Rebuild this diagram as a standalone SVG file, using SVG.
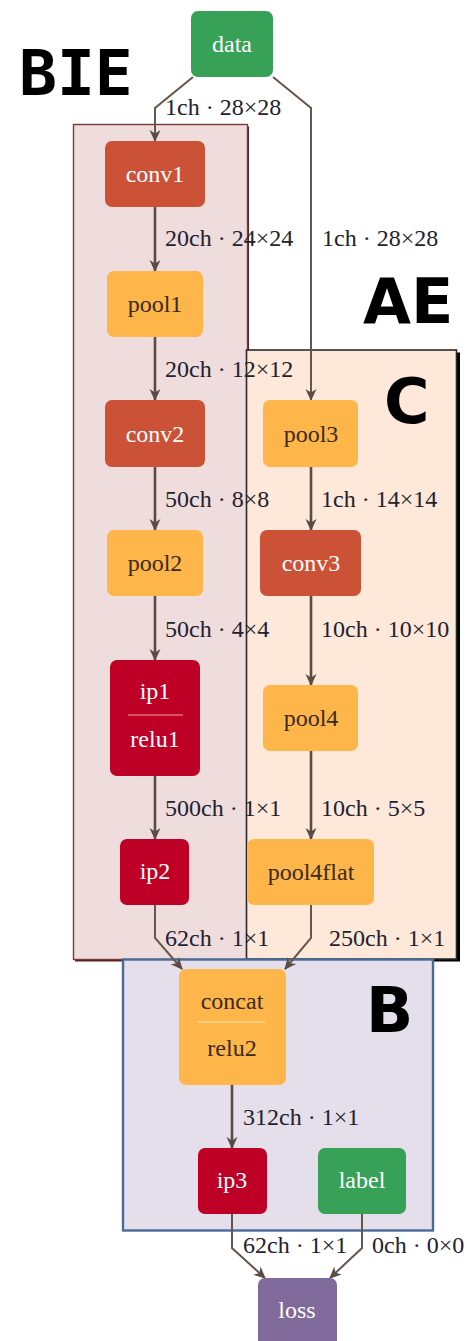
<svg xmlns="http://www.w3.org/2000/svg" width="467" height="1341" viewBox="0 0 467 1341">
  <style>
    .node rect { stroke: none; }
    .lbl { font-family: "Liberation Serif", "Times New Roman", serif; font-size: 24px; text-anchor: middle; }
    .light { fill: #ffffff; }
    .dark { fill: #3a2b1c; }
    .elbl { font-family: "Liberation Serif", "Times New Roman", serif; font-size: 24px; fill: #22222e; }
    .grp { font-family: "DejaVu Sans", "Liberation Sans", sans-serif; font-weight: bold; font-size: 62px; fill: #000000; }
    .grp.mono { font-family: "DejaVu Sans Mono", "Liberation Mono", monospace; font-size: 63px; }
    .edge { fill: none; stroke: #5a4b44; stroke-width: 2.6; marker-end: url(#arrow); }
    .edge.thin { stroke-width: 2; stroke: #65564e; }
    .div { stroke-width: 1.2; }
  </style>
  <defs>
    <marker id="arrow" viewBox="0 0 12 12" refX="11" refY="6" markerWidth="12" markerHeight="12" markerUnits="userSpaceOnUse" orient="auto">
      <path d="M0,0.5 L12,6 L0,11.5 L3.5,6 Z" fill="#5a4b44"/>
    </marker>
  </defs>

  <rect width="467" height="1341" fill="#ffffff"/>

  <!-- group frames -->
  <g id="group-BIE">
    <rect x="75" y="126.5" width="174" height="835" fill="#5a1f1f"/>
    <rect x="73.5" y="124.5" width="174" height="835" fill="#efdcdc" stroke="#7a3a3a" stroke-width="1.4"/>
  </g>
  <g id="group-AEC">
    <rect x="249" y="352.5" width="211" height="609" fill="#000000"/>
    <rect x="246.5" y="350" width="210" height="609" fill="#fde8d9" stroke="#2a2a2a" stroke-width="1.6"/>
  </g>
  <g id="group-B">
    <rect x="123" y="959.5" width="310" height="271" fill="#e4dfea" stroke="#4a6b98" stroke-width="2.4"/>
  </g>

  <!-- group titles -->
  <text class="grp mono" x="19" y="95">BIE</text>
  <text class="grp" x="363" y="323">AE</text>
  <text class="grp" x="384" y="423">C</text>
  <text class="grp" x="366" y="1032">B</text>

  <!-- connectors -->
  <g id="edges">
    <path class="edge thin" d="M193,77 L155,108 L155,141"/>
    <path class="edge thin" d="M273,77 L311,108 L311,400"/>
    <path class="edge" d="M155,207 L155,271"/>
    <path class="edge" d="M155,337 L155,400"/>
    <path class="edge" d="M155,467 L155,530"/>
    <path class="edge" d="M155,596 L155,660"/>
    <path class="edge" d="M155,776 L155,839"/>
    <path class="edge" d="M311,467 L311,530"/>
    <path class="edge" d="M311,596 L311,685"/>
    <path class="edge" d="M311,751 L311,839"/>
    <path class="edge thin" d="M155,905 L155,938 L182,969"/>
    <path class="edge thin" d="M311,905 L311,938 L285,969"/>
    <path class="edge" d="M232,1085 L232,1148"/>
    <path class="edge thin" d="M232,1214 L232,1248 L265,1278"/>
    <path class="edge thin" d="M362,1214 L362,1248 L330,1278"/>
  </g>

  <!-- connector labels -->
  <g id="edge-labels">
    <text class="elbl" x="165" y="115">1ch · 28×28</text>
    <text class="elbl" x="165" y="246">20ch · 24×24</text>
    <text class="elbl" x="322" y="246">1ch · 28×28</text>
    <text class="elbl" x="165" y="377">20ch · 12×12</text>
    <text class="elbl" x="165" y="507">50ch · 8×8</text>
    <text class="elbl" x="321" y="507">1ch · 14×14</text>
    <text class="elbl" x="165" y="637">50ch · 4×4</text>
    <text class="elbl" x="321" y="637">10ch · 10×10</text>
    <text class="elbl" x="165" y="816">500ch · 1×1</text>
    <text class="elbl" x="321" y="816">10ch · 5×5</text>
    <text class="elbl" x="165" y="946">62ch · 1×1</text>
    <text class="elbl" x="329" y="946">250ch · 1×1</text>
    <text class="elbl" x="243" y="1125">312ch · 1×1</text>
    <text class="elbl" x="243" y="1253">62ch · 1×1</text>
    <text class="elbl" x="372" y="1253">0ch · 0×0</text>
  </g>

  <!-- nodes -->
  <g id="node-data" class="node">
    <rect x="191" y="11" width="82" height="66" rx="7" fill="#37a158"/>
    <text class="lbl light" x="232" y="52">data</text>
  </g>
  <g id="node-conv1" class="node">
    <rect x="105" y="141" width="100" height="66" rx="7" fill="#cb5236"/>
    <text class="lbl light" x="155" y="182">conv1</text>
  </g>
  <g id="node-pool1" class="node">
    <rect x="107" y="271" width="96" height="66" rx="7" fill="#feb54a"/>
    <text class="lbl dark" x="155" y="312">pool1</text>
  </g>
  <g id="node-conv2" class="node">
    <rect x="105" y="400" width="100" height="67" rx="7" fill="#cb5236"/>
    <text class="lbl light" x="155" y="442">conv2</text>
  </g>
  <g id="node-pool2" class="node">
    <rect x="107" y="530" width="96" height="66" rx="7" fill="#feb54a"/>
    <text class="lbl dark" x="155" y="571">pool2</text>
  </g>
  <g id="node-ip1" class="node">
    <rect x="110" y="660" width="90" height="116" rx="7" fill="#bf0026"/>
    <text class="lbl light" x="155" y="699">ip1</text>
    <line class="div" x1="128" y1="715" x2="183" y2="715" stroke="#f0a0aa"/>
    <text class="lbl light" x="155" y="747">relu1</text>
  </g>
  <g id="node-ip2" class="node">
    <rect x="120" y="839" width="69" height="66" rx="7" fill="#bf0026"/>
    <text class="lbl light" x="155" y="879">ip2</text>
  </g>
  <g id="node-pool3" class="node">
    <rect x="263" y="400" width="95" height="67" rx="7" fill="#feb54a"/>
    <text class="lbl dark" x="311" y="442">pool3</text>
  </g>
  <g id="node-conv3" class="node">
    <rect x="260" y="530" width="101" height="66" rx="7" fill="#cb5236"/>
    <text class="lbl light" x="311" y="571">conv3</text>
  </g>
  <g id="node-pool4" class="node">
    <rect x="263" y="685" width="95" height="66" rx="7" fill="#feb54a"/>
    <text class="lbl dark" x="311" y="726">pool4</text>
  </g>
  <g id="node-pool4flat" class="node">
    <rect x="247" y="839" width="127" height="66" rx="7" fill="#feb54a"/>
    <text class="lbl dark" x="311" y="880">pool4flat</text>
  </g>
  <g id="node-concat" class="node">
    <rect x="179" y="969" width="107" height="116" rx="7" fill="#feb54a"/>
    <text class="lbl dark" x="232" y="1009">concat</text>
    <line class="div" x1="198" y1="1022" x2="265" y2="1022" stroke="#ffe3b0"/>
    <text class="lbl dark" x="232" y="1056">relu2</text>
  </g>
  <g id="node-ip3" class="node">
    <rect x="198" y="1148" width="69" height="66" rx="7" fill="#bf0026"/>
    <text class="lbl light" x="232" y="1188">ip3</text>
  </g>
  <g id="node-label" class="node">
    <rect x="318" y="1148" width="88" height="66" rx="7" fill="#37a158"/>
    <text class="lbl light" x="362" y="1188">label</text>
  </g>
  <g id="node-loss" class="node">
    <rect x="258" y="1278" width="79" height="70" rx="7" fill="#806a9c"/>
    <text class="lbl light" x="297" y="1318">loss</text>
  </g>
</svg>
